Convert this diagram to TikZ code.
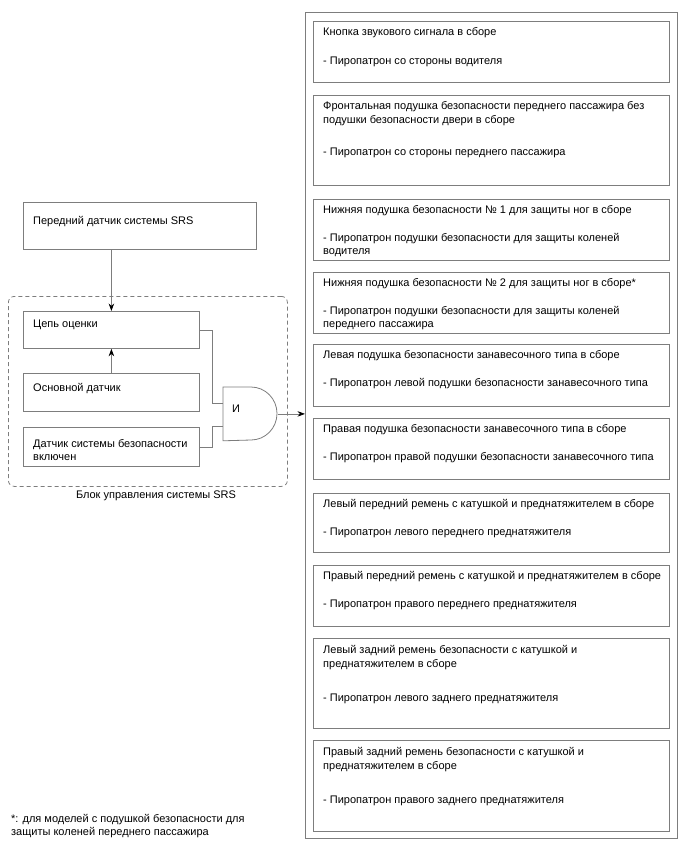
\documentclass[tikz,border=0pt]{standalone}
\usepackage{fontspec}
\setmainfont{Liberation Sans}
\usetikzlibrary{arrows.meta}
\definecolor{linegray}{RGB}{125,125,125}

\tikzset{
  unit/.style={draw=linegray, line width=0.8pt, anchor=north west, inner sep=0pt},
  txt/.style={anchor=north west, align=left, inner sep=0pt, font=\fontsize{11}{13.3}\selectfont},
  wire/.style={draw=linegray, line width=0.8pt},
  sig/.style={wire, -{Stealth[length=7.5pt, width=5.5pt, color=black]}},
}

\begin{document}
\begin{tikzpicture}[x=1pt,y=-1pt]
  \useasboundingbox (0,0) rectangle (688,852);

  \node[unit, minimum width=233pt, minimum height=47pt] (front) at (23,202) {};
  \node[txt] (fronttxt) at ([xshift=10pt,yshift=-14pt]front.north west) {Передний датчик системы SRS};

  \node[unit, draw=linegray, dash pattern=on 4pt off 3pt, rounded corners=6pt,
        minimum width=279pt, minimum height=190pt] (ecu) at (8,296) {};
  \node[txt, anchor=base] (ecutxt) at (156,498) {Блок управления системы SRS};

  \node[unit, minimum width=176pt, minimum height=37pt] (eval) at (23,311) {};
  \node[txt] (evaltxt) at ([xshift=10pt,yshift=-9pt]eval.north west) {Цепь оценки};
  \node[unit, minimum width=176pt, minimum height=38pt] (main) at (23,373) {};
  \node[txt] (maintxt) at ([xshift=10pt,yshift=-10pt]main.north west) {Основной датчик};
  \node[unit, minimum width=176pt, minimum height=39pt] (safing) at (23,427) {};
  \node[txt] (safingtxt) at ([xshift=10pt,yshift=-12pt]safing.north west) {Датчик системы безопасности\\включен};

  \node[unit, draw=none, minimum width=54pt, minimum height=53pt] (gate) at (223,387) {};
  \draw[wire] (gate.north west) -- ++(28,0) arc[start angle=90, end angle=-90, x radius=26pt, y radius=26.5pt]
    -- (gate.south west) -- cycle;
  \node[txt, anchor=west] (gatetxt) at ([xshift=9pt,yshift=5pt]gate.west) {И};

  \node[unit, minimum width=372pt, minimum height=826pt] (frame) at (305,12) {};

  \node[unit, minimum width=356pt, minimum height=61pt] (u1) at (313,21) {};
  \node[txt] (t1) at ([xshift=10pt,yshift=-6.5pt]u1.north west) {Кнопка звукового сигнала в сборе\\[15pt]- Пиропатрон со стороны водителя};
  \node[unit, minimum width=356pt, minimum height=90pt] (u2) at (313,95) {};
  \node[txt] (t2) at ([xshift=10pt,yshift=-6.5pt]u2.north west) {Фронтальная подушка безопасности переднего пассажира без\\подушки безопасности двери в сборе\\[19pt]- Пиропатрон со стороны переднего пассажира};
  \node[unit, minimum width=356pt, minimum height=61pt] (u3) at (313,199) {};
  \node[txt] (t3) at ([xshift=10pt,yshift=-6.5pt]u3.north west) {Нижняя подушка безопасности № 1 для защиты ног в сборе\\[14pt]- Пиропатрон подушки безопасности для защиты коленей\\водителя};
  \node[unit, minimum width=356pt, minimum height=61pt] (u4) at (313,272) {};
  \node[txt] (t4) at ([xshift=10pt,yshift=-6.5pt]u4.north west) {Нижняя подушка безопасности № 2 для защиты ног в сборе*\\[14pt]- Пиропатрон подушки безопасности для защиты коленей\\переднего пассажира};
  \node[unit, minimum width=356pt, minimum height=62pt] (u5) at (313,344) {};
  \node[txt] (t5) at ([xshift=10pt,yshift=-6.5pt]u5.north west) {Левая подушка безопасности занавесочного типа в сборе\\[14pt]- Пиропатрон левой подушки безопасности занавесочного типа};
  \node[unit, minimum width=356pt, minimum height=61pt] (u6) at (313,418) {};
  \node[txt] (t6) at ([xshift=10pt,yshift=-6.5pt]u6.north west) {Правая подушка безопасности занавесочного типа в сборе\\[14pt]- Пиропатрон правой подушки безопасности занавесочного типа};
  \node[unit, minimum width=356pt, minimum height=59pt] (u7) at (313,493) {};
  \node[txt] (t7) at ([xshift=10pt,yshift=-6.5pt]u7.north west) {Левый передний ремень с катушкой и преднатяжителем в сборе\\[14pt]- Пиропатрон левого переднего преднатяжителя};
  \node[unit, minimum width=356pt, minimum height=61pt] (u8) at (313,565) {};
  \node[txt] (t8) at ([xshift=10pt,yshift=-6.5pt]u8.north west) {Правый передний ремень с катушкой и преднатяжителем в сборе\\[14pt]- Пиропатрон правого переднего преднатяжителя};
  \node[unit, minimum width=356pt, minimum height=90pt] (u9) at (313,638) {};
  \node[txt] (t9) at ([xshift=10pt,yshift=-7.5pt]u9.north west) {Левый задний ремень безопасности с катушкой и\\преднатяжителем в сборе\\[21pt]- Пиропатрон левого заднего преднатяжителя};
  \node[unit, minimum width=356pt, minimum height=91pt] (u10) at (313,740) {};
  \node[txt] (t10) at ([xshift=10pt,yshift=-7.5pt]u10.north west) {Правый задний ремень безопасности с катушкой и\\преднатяжителем в сборе\\[21pt]- Пиропатрон правого заднего преднатяжителя};

  \node[txt] (note) at (11,814) {*: для моделей с подушкой безопасности для\\защиты коленей переднего пассажира};

  \draw[sig] (eval.north |- front.south) -- (eval.north);
  \draw[sig] (main.north) -- (eval.south);
  \draw[wire] (eval.east) -| ([xshift=-11pt,yshift=10.5pt]gate.west) -- ([yshift=10.5pt]gate.west);
  \draw[wire] (safing.east) -| ([xshift=-11pt,yshift=-12pt]gate.west) -- ([yshift=-12pt]gate.west);
  \draw[sig] (gate.east) -- (gate.east -| frame.west);
\end{tikzpicture}
\end{document}
